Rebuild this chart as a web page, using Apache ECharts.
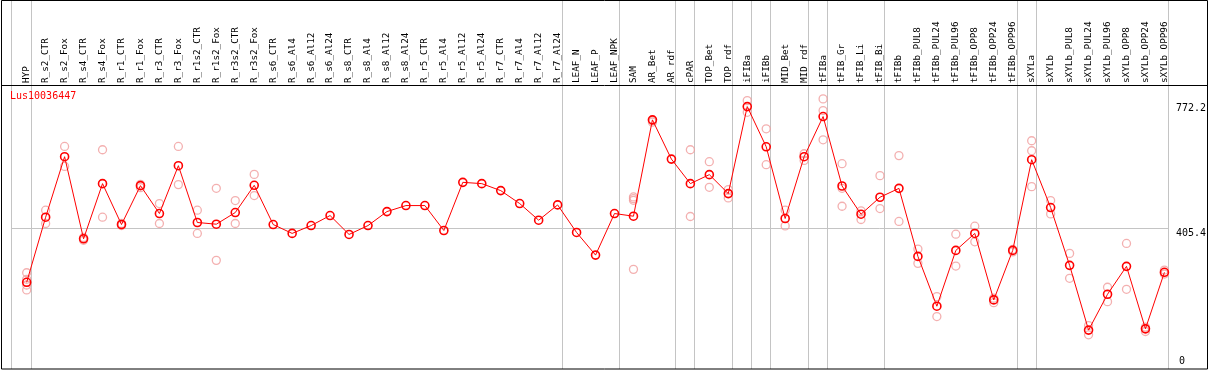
<!DOCTYPE html>
<html><head><meta charset="utf-8">
<script src="https://cdn.jsdelivr.net/npm/echarts@6/dist/echarts.min.js"></script>
<style>html,body{margin:0;padding:0;background:#fff}#c{width:1209px;height:370px}</style>
</head><body><div id="c"></div>
<script>
const geneName = 'Lus10036447';
const categories = ['HYP','R_s2_CTR','R_s2_Fox','R_s4_CTR','R_s4_Fox','R_r1_CTR','R_r1_Fox','R_r3_CTR','R_r3_Fox','R_r1s2_CTR','R_r1s2_Fox','R_r3s2_CTR','R_r3s2_Fox','R_s6_CTR','R_s6_Al4','R_s6_Al12','R_s6_Al24','R_s8_CTR','R_s8_Al4','R_s8_Al12','R_s8_Al24','R_r5_CTR','R_r5_Al4','R_r5_Al12','R_r5_Al24','R_r7_CTR','R_r7_Al4','R_r7_Al12','R_r7_Al24','LEAF_N','LEAF_P','LEAF_NPK','SAM','AR_Bet','AR_rdf','cPAR','TOP_Bet','TOP_rdf','iFIBa','iFIBb','MID_Bet','MID_rdf','tFIBa','tFIB_Gr','tFIB_Li','tFIB_Bi','tFIBb','tFIBb_PUL8','tFIBb_PUL24','tFIBb_PUL96','tFIBb_OPP8','tFIBb_OPP24','tFIBb_OPP96','sXYLa','sXYLb','sXYLb_PUL8','sXYLb_PUL24','sXYLb_PUL96','sXYLb_OPP8','sXYLb_OPP24','sXYLb_OPP96'];
const mainValues = [246.8,437.5,614.8,374.2,535.9,416.1,530,448.3,588.5,422,417,451.2,531,416,390,413,442.4,387,413,454,471.6,471.6,398.6,539.7,535.9,515.4,477.5,428.7,473.5,392.8,326.5,448.3,440.4,722.8,607.8,535.9,562.2,506.7,761.7,643.9,433.7,614.8,732.5,529,446.3,496,522,322.7,176.7,340.2,389.9,195.1,340.2,606,465.8,296.4,106.6,211.7,293.5,110.4,276];
const replicates = [
 [274.8,255.6,238.9,224.3],[458,419],[644.9,586.4],[370,378],[635.2,437.5],[419,413],[534,524],[477.5,419],[644.9,533],[458,389.9],[522.2,311],[486.3,419],[563,500.9],
 [],[],[],[],[],[],[],[],[],[],[],[],[],[],[],[],[],[],[],
 [496.8,492,487,284.7],[720,716],[],[635.2,439.5],[600.2,525.1],[518.4,494],[779.2,745],[696.5,591.4],[458,412],[623.5,604],[784.2,750,664.4],[594.3,522.2,469.6],[456,430.8],[559.3,462.9],[618,425],
 [344,302.3],[204.7,146.3],[387.8,294.4],[411.2,365.4],[200,187],[343,336],[661.5,632.3,527.1],[486.3,447.2],[331.5,258.5],[120,92.9],[232.2,190.1],[360.7,226.3],[115.4,102.5],[282.7,271]
];
const separatorAfter = ['HYP','R_r7_Al24','LEAF_NPK','AR_rdf','cPAR','TOP_rdf','iFIBa','iFIBb','MID_rdf','tFIBa','tFIB_Bi','tFIBb_OPP96','sXYLa','sXYLb_OPP96'];
const yTickValues = [405.4, 772.2];
const yZeroTick = [0];
const refLineValue = 405.4;
const yMax = 822;

const repData = [];
replicates.forEach((arr, i) => arr.forEach(v => repData.push([i, v])));

const mono = 'DejaVu Sans Mono';
const chart = echarts.init(document.getElementById('c'), null, {renderer: 'canvas'});
const yAxisBase = {
  type: 'value', min: 0, max: yMax, position: 'right',
  axisLine: {show: false}, axisTick: {show: false}, splitLine: {show: false}
};
chart.setOption({
  animation: false,
  backgroundColor: '#fff',
  title: {text: geneName, left: 10, top: 91, padding: 0,
    textStyle: {color: '#ff0000', fontSize: 10, fontFamily: mono, fontWeight: 'normal'}},
  grid: {left: 17.2, right: 32.8, top: 86, bottom: 3.5, containLabel: false},
  xAxis: {
    type: 'category', data: categories, position: 'top', boundaryGap: true,
    axisLine: {show: false}, axisTick: {show: false}, splitLine: {show: false},
    axisLabel: {interval: 0, rotate: 90, margin: 3, color: '#000', fontFamily: mono, fontSize: 9.3}
  },
  yAxis: [
    Object.assign({}, yAxisBase, {axisLabel: {customValues: yTickValues, verticalAlign: 'top', align: 'left', margin: 2, color: '#000', fontFamily: mono, fontSize: 10}}),
    Object.assign({}, yAxisBase, {axisLabel: {customValues: yZeroTick, verticalAlign: 'bottom', align: 'left', margin: 5, color: '#000', fontFamily: mono, fontSize: 10}})
  ],
  graphic: [
    {type: 'rect', silent: true, z: 100, shape: {x: 1.5, y: 0.5, width: 1206, height: 368.5}, style: {fill: 'none', stroke: '#000', lineWidth: 1}},
    {type: 'line', silent: true, z: 100, shape: {x1: 1.5, y1: 85.5, x2: 1207.5, y2: 85.5}, style: {stroke: '#000', lineWidth: 1}}
  ],
  series: [
    {
      type: 'custom', silent: true, z: 1, clip: false,
      data: separatorAfter.map(n => [categories.indexOf(n), 0]),
      encode: {x: 0, y: 1},
      renderItem: (params, api) => {
        const x = Math.round(api.coord([api.value(0), 0])[0] + 4) + 0.5;
        return {type: 'line', shape: {x1: x, y1: 0, x2: x, y2: api.getHeight() - 1}, style: {stroke: '#c4c4c4', lineWidth: 1}};
      }
    },
    {
      type: 'custom', silent: true, z: 1, clip: false,
      data: [[0, refLineValue]],
      encode: {x: 0, y: 1},
      renderItem: (params, api) => {
        const p0 = api.coord([0, api.value(1)]);
        const p1 = api.coord([categories.length - 1, api.value(1)]);
        const y = Math.round(p0[1]) + 0.5;
        const xl = Math.round(p0[0] - 16) + 0.5;
        return {type: 'group', children: [
          {type: 'line', shape: {x1: xl, y1: 0, x2: xl, y2: api.getHeight() - 1}, style: {stroke: '#c4c4c4', lineWidth: 1}},
          {type: 'line', shape: {x1: xl, y1: y, x2: Math.round(p1[0] + 4) + 0.5, y2: y}, style: {stroke: '#c4c4c4', lineWidth: 1}}
        ]};
      }
    },
    {
      type: 'scatter', data: repData, symbol: 'circle', symbolSize: 8, z: 3, silent: true,
      itemStyle: {color: 'rgba(0,0,0,0)', borderColor: '#f09c9c', borderWidth: 1.3}
    },
    {
      type: 'line', data: mainValues, symbol: 'circle', symbolSize: 8, showAllSymbol: true, z: 4, silent: true,
      lineStyle: {color: '#ff0000', width: 1},
      itemStyle: {color: 'rgba(0,0,0,0)', borderColor: '#ff0000', borderWidth: 1.6}
    }
  ]
});
</script>
</body></html>
